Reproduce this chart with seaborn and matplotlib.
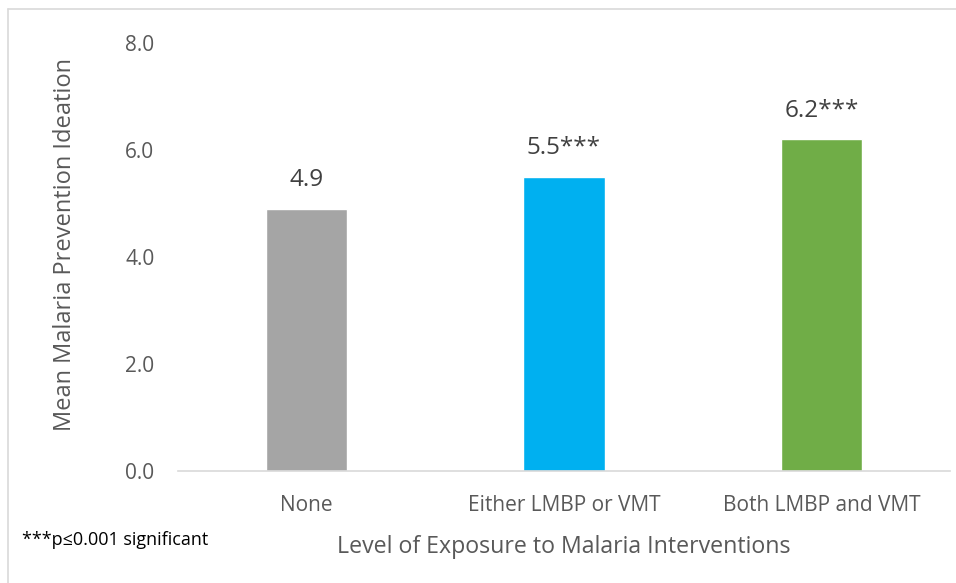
import matplotlib
matplotlib.use("Agg")
import matplotlib.pyplot as plt
from matplotlib.lines import Line2D
import seaborn as sns
import pandas as pd

categories = ["None", "Either LMBP or VMT", "Both LMBP and VMT"]
means = [4.9, 5.5, 6.2]
value_labels = ["4.9", "5.5***", "6.2***"]
bar_colors = ["#A5A5A5", "#00B0F0", "#70AD47"]
y_ticks = [0.0, 2.0, 4.0, 6.0, 8.0]

sns.set_theme(style="white")
plt.rcParams["font.family"] = ["Open Sans", "DejaVu Sans"]

df = pd.DataFrame({"exposure": categories, "mean": means})

fig = plt.figure(figsize=(9.56, 5.83), dpi=100)
ax = fig.add_axes([178 / 956, 1 - 471 / 583, (950 - 178) / 956, (471 - 43) / 583])

sns.barplot(data=df, x="exposure", y="mean", hue="exposure",
            palette=bar_colors, width=0.315, legend=False, ax=ax,
            saturation=1)

text_grey = "#595959"
for i, (v, lab) in enumerate(zip(means, value_labels)):
    ax.text(i, v + 0.42, lab, ha="center", va="baseline", fontsize=17.5,
            color="#404040")

ax.set_ylim(0, 8)
ax.set_xlim(-0.5, 2.5)
ax.set_yticks(y_ticks)
ax.set_yticklabels([f"{t:.1f}" for t in y_ticks])
ax.tick_params(axis="y", length=0, pad=17, labelsize=15, labelcolor=text_grey)
ax.tick_params(axis="x", length=0, pad=17, labelsize=15, labelcolor=text_grey)

for s in ["top", "right", "left"]:
    ax.spines[s].set_visible(False)
ax.spines["bottom"].set_color("#D9D9D9")
ax.spines["bottom"].set_linewidth(1.2)

ax.set_xlabel("Level of Exposure to Malaria Interventions", fontsize=16.7,
              color=text_grey, labelpad=14)
ax.set_ylabel("Mean Malaria Prevention Ideation", fontsize=17,
              color=text_grey, labelpad=35)
ax.yaxis.label.set_y(0.53)

fig.text(22 / 956, 1 - 540 / 583, "***p≤0.001 significant", fontsize=13,
         color="black", va="center", ha="left")

# chart-area frame (top and left edges)
fig.add_artist(Line2D([8 / 956, 1.0], [1 - 9 / 583, 1 - 9 / 583],
                      transform=fig.transFigure, color="#D9D9D9", lw=1.2))
fig.add_artist(Line2D([8 / 956, 8 / 956], [0.0, 1 - 9 / 583],
                      transform=fig.transFigure, color="#D9D9D9", lw=1.2))

fig.savefig("out.png", dpi=100)
